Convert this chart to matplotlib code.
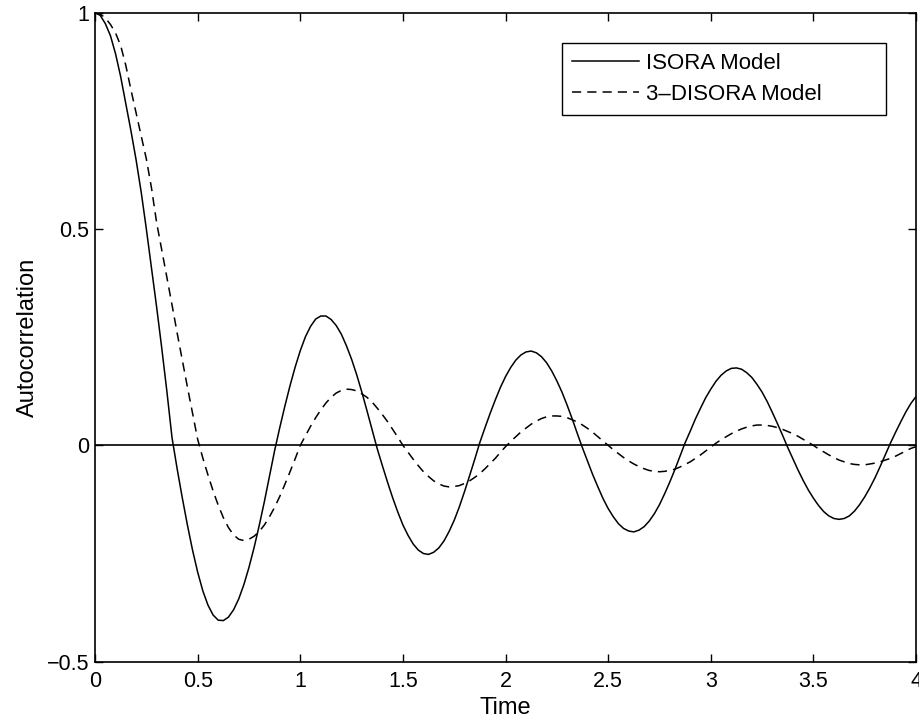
import matplotlib.pyplot as plt

plt.rcParams['font.family'] = ['Liberation Sans', 'DejaVu Sans']

# time axis, one reading every 0.025
t = [round(i * 0.025, 3) for i in range(161)]

isora = [1.0, 0.994, 0.975, 0.947, 0.905, 0.852, 0.79, 0.727, 0.66, 0.585,
         0.50, 0.41, 0.32, 0.225, 0.125, 0.018, -0.054, -0.121, -0.184, -0.242,
         -0.293, -0.336, -0.369, -0.392, -0.404, -0.405, -0.397, -0.380, -0.355, -0.322,
         -0.282, -0.236, -0.185, -0.130, -0.071, -0.012, 0.041, 0.091, 0.138, 0.181,
         0.219, 0.251, 0.275, 0.292, 0.299, 0.299, 0.291, 0.277, 0.257, 0.230,
         0.199, 0.163, 0.123, 0.080, 0.036, -0.008, -0.047, -0.085, -0.121, -0.154,
         -0.184, -0.208, -0.228, -0.242, -0.250, -0.252, -0.247, -0.237, -0.221, -0.199,
         -0.173, -0.142, -0.107, -0.070, -0.032, 0.007, 0.041, 0.074, 0.105, 0.134,
         0.159, 0.180, 0.197, 0.209, 0.216, 0.218, 0.214, 0.205, 0.191, 0.172,
         0.149, 0.123, 0.093, 0.061, 0.027, -0.006, -0.037, -0.068, -0.096, -0.123,
         -0.146, -0.165, -0.181, -0.192, -0.198, -0.200, -0.196, -0.188, -0.175, -0.158,
         -0.137, -0.112, -0.085, -0.056, -0.025, 0.006, 0.033, 0.061, 0.086, 0.110,
         0.130, 0.148, 0.162, 0.172, 0.178, 0.179, 0.176, 0.168, 0.157, 0.141,
         0.123, 0.101, 0.076, 0.050, 0.023, -0.005, -0.031, -0.057, -0.081, -0.103,
         -0.122, -0.139, -0.153, -0.163, -0.169, -0.171, -0.169, -0.163, -0.152, -0.137,
         -0.119, -0.098, -0.075, -0.049, -0.022, 0.005, 0.030, 0.054, 0.077, 0.097,
         0.113]

disora = [1.0, 0.997, 0.988, 0.973, 0.953, 0.924, 0.878, 0.822, 0.768, 0.715,
          0.662, 0.595, 0.515, 0.452, 0.39, 0.325, 0.26, 0.197, 0.135, 0.075,
          0.014, -0.029, -0.068, -0.105, -0.138, -0.167, -0.190, -0.207, -0.217, -0.220,
          -0.217, -0.210, -0.199, -0.184, -0.165, -0.143, -0.118, -0.090, -0.061, -0.031,
          0.0, 0.022, 0.044, 0.064, 0.082, 0.098, 0.111, 0.121, 0.127, 0.130,
          0.129, 0.126, 0.119, 0.111, 0.100, 0.086, 0.071, 0.055, 0.037, 0.019,
          0.0, -0.016, -0.032, -0.047, -0.061, -0.072, -0.082, -0.089, -0.094, -0.096,
          -0.095, -0.093, -0.088, -0.082, -0.074, -0.065, -0.054, -0.042, -0.030, -0.016,
          -0.003, 0.009, 0.020, 0.031, 0.040, 0.049, 0.056, 0.062, 0.066, 0.068,
          0.068, 0.067, 0.064, 0.059, 0.054, 0.047, 0.039, 0.030, 0.020, 0.010,
          0.0, -0.010, -0.019, -0.028, -0.036, -0.043, -0.049, -0.054, -0.058, -0.060,
          -0.061, -0.060, -0.058, -0.055, -0.050, -0.044, -0.038, -0.030, -0.022, -0.013,
          -0.004, 0.005, 0.013, 0.020, 0.027, 0.033, 0.038, 0.042, 0.045, 0.047,
          0.047, 0.046, 0.044, 0.041, 0.037, 0.032, 0.027, 0.021, 0.014, 0.007,
          0.0, -0.008, -0.015, -0.022, -0.028, -0.034, -0.038, -0.042, -0.044, -0.045,
          -0.045, -0.043, -0.041, -0.038, -0.034, -0.030, -0.025, -0.019, -0.013, -0.007,
          -0.003]

x_ticks = [0, 0.5, 1, 1.5, 2, 2.5, 3, 3.5, 4]
x_labels = ['0', '0.5', '1', '1.5', '2', '2.5', '3', '3.5', '4']
y_ticks = [-0.5, 0, 0.5, 1]
y_labels = ['\u22120.5', '0', '0.5', '1']

fig = plt.figure(figsize=(9.2, 7.19), dpi=100)
ax = fig.add_axes([0.1033, 0.0797, 0.8924, 0.9026])

ax.plot(t, isora, color='black', lw=1.1, label='ISORA Model')
ax.plot(t, disora, color='black', lw=1.1, dashes=(6, 4), label='3\u2013DISORA Model')
ax.axhline(0, color='black', lw=1.2)

ax.set_xlim(0, 4)
ax.set_ylim(-0.5, 1)
ax.set_xticks(x_ticks)
ax.set_xticklabels(x_labels)
ax.set_yticks(y_ticks)
ax.set_yticklabels(y_labels)
ax.tick_params(direction='in', length=6, width=1, labelsize=15.5,
               top=True, right=True)
ax.tick_params(axis='x', pad=7)
ax.tick_params(axis='y', pad=4)
for s in ax.spines.values():
    s.set_linewidth(1.2)

ax.set_xlabel('Time', fontsize=17, labelpad=3)
ax.set_ylabel('Autocorrelation', fontsize=17, labelpad=6)

leg = ax.legend(loc='upper left', bbox_to_anchor=(0.569, 0.0, 0.394, 0.9538),
                mode='expand', borderaxespad=0, fontsize=16, handlelength=3.0,
                fancybox=False, framealpha=1, edgecolor='black', borderpad=0.45,
                labelspacing=0.45, handletextpad=0.3)
leg.get_frame().set_linewidth(1.0)

plt.savefig('out.png', dpi=100)
